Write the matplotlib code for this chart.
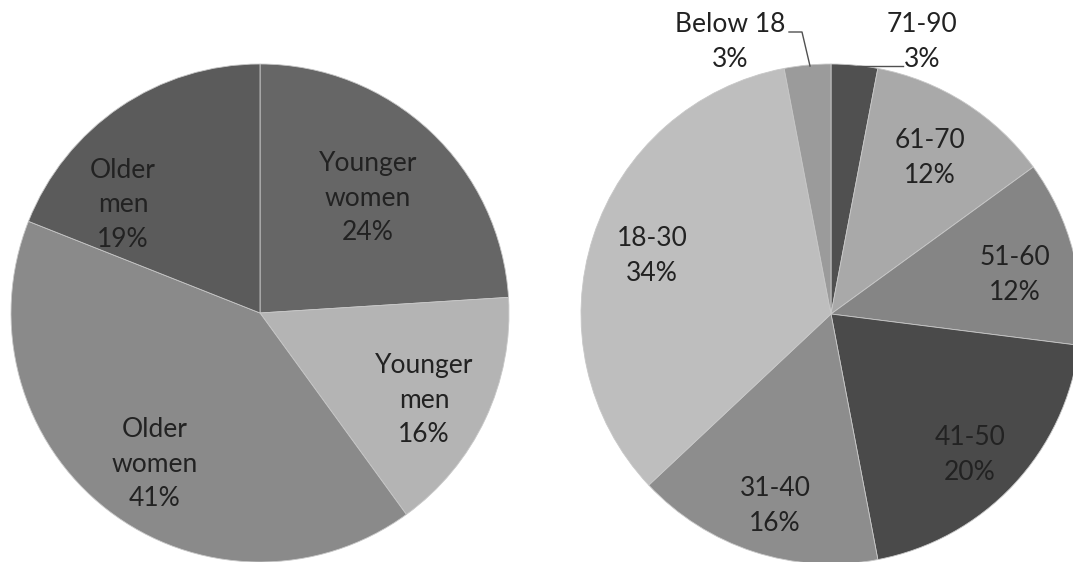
import matplotlib
matplotlib.use("Agg")
import matplotlib.pyplot as plt

# ---------------- data ----------------
left_labels = ["Younger\nwomen", "Younger\nmen", "Older\nwomen", "Older\nmen"]
left_values = [24, 16, 41, 19]
right_labels = ["71-90", "61-70", "51-60", "41-50", "31-40", "18-30", "Below 18"]
right_values = [3, 12, 12, 20, 16, 34, 3]

# ---------------- style / layout ----------------
left_colors = ["#666666", "#b4b4b4", "#8a8a8a", "#5b5b5b"]
right_colors = ["#505050", "#a9a9a9", "#858585", "#4a4a4a", "#8d8d8d", "#bebebe", "#9b9b9b"]
W, H = 1073, 562
FONT = "Lato"
FS = 19
TXT = "#222222"

# pie geometry in pixels: center x, center y, radius x, radius y
left_geom = (260, 313, 249, 249)
right_geom = (831, 314, 250, 250)

# label positions in pixels (text centers)
left_label_px = [(368, 198), (424, 400), (155, 464), (123, 205)]
right_label_px = [(922, 42), (930, 158), (1015, 275), (970, 455), (775, 506), (652, 256), (730, 42)]

fig = plt.figure(figsize=(W / 100, H / 100), dpi=100)
fig.patch.set_facecolor("white")


def make_ax(geom):
    cx, cy, rx, ry = geom
    ax = fig.add_axes([(cx - rx) / W, (H - cy - ry) / H, 2 * rx / W, 2 * ry / H])
    return ax


def draw_pie(geom, values, colors):
    ax = make_ax(geom)
    ax.pie(values, colors=colors, startangle=90, counterclock=False,
           radius=1.0, wedgeprops=dict(edgecolor="#c8c8c8", linewidth=0.6))
    ax.set_aspect("auto")
    ax.set_xlim(-1, 1)
    ax.set_ylim(-1, 1)
    ax.set_axis_off()
    return ax


draw_pie(left_geom, left_values, left_colors)
draw_pie(right_geom, right_values, right_colors)


def px_text(x, y, s):
    fig.text(x / W, 1 - y / H, s, ha="center", va="center", fontsize=FS,
             family=FONT, color=TXT, linespacing=1.48)


for (x, y), lab, v in zip(left_label_px, left_labels, left_values):
    px_text(x, y, f"{lab}\n{v}%")
for (x, y), lab, v in zip(right_label_px, right_labels, right_values):
    px_text(x, y, f"{lab}\n{v}%")

# leader lines (overlay axes in pixel coordinates)
ov = fig.add_axes([0, 0, 1, 1])
ov.set_xlim(0, W)
ov.set_ylim(H, 0)
ov.set_axis_off()
ov.patch.set_alpha(0)
ov.plot([857, 903], [66, 66], color="#505050", lw=1.0)
ov.plot([789, 802, 810], [32, 32, 66], color="#505050", lw=1.0)

fig.savefig("out.png", dpi=100, facecolor="white")
